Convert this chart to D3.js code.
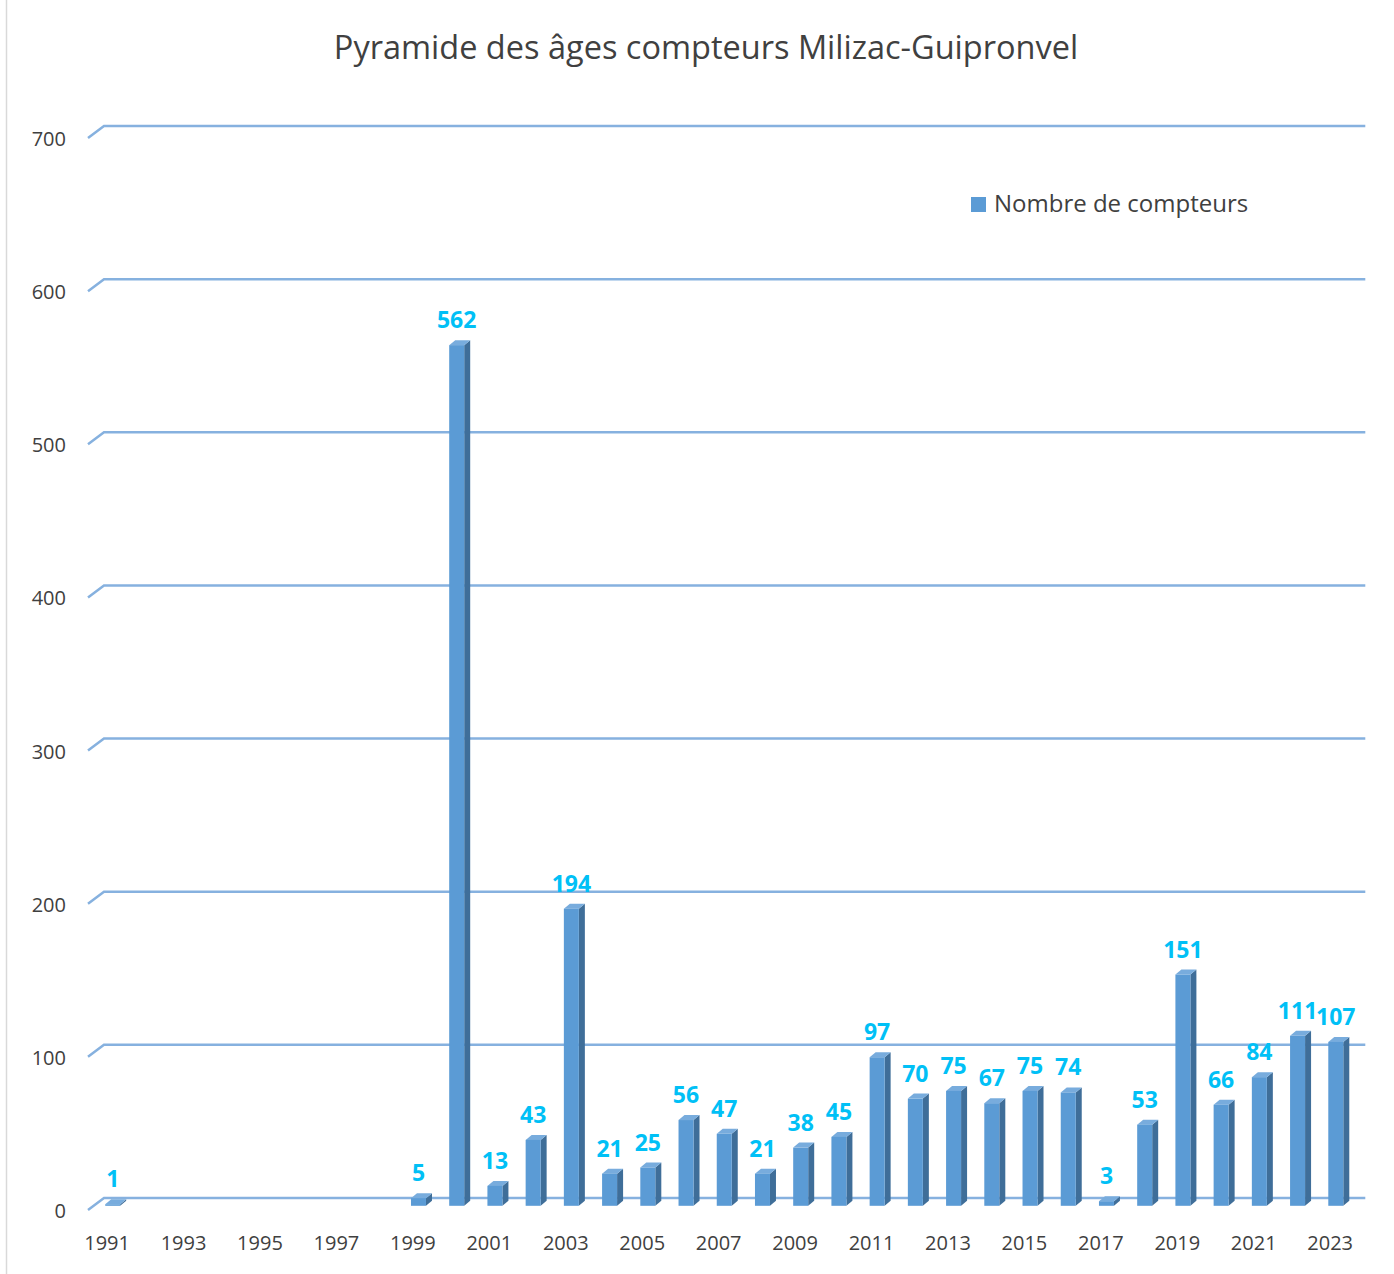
<!DOCTYPE html>
<html>
<head>
<meta charset="utf-8">
<script src="https://d3js.org/d3.v7.min.js"></script>
<style>
  body { margin: 0; background: #fff; }
  svg text { font-family: "Open Sans", "DejaVu Sans", sans-serif; }
</style>
</head>
<body>
<div id="chart"></div>
<script>

/*
 * Data.
 */
var years = d3.range(1991, 2024).map(String);
var counts = [1, null, null, null, null, null, null, null, 5, 562, 13, 43, 194, 21,
  25, 56, 47, 21, 38, 45, 97, 70, 75, 67, 75, 74, 3, 53, 151, 66, 84, 111, 107];
var yTicks = [0, 100, 200, 300, 400, 500, 600, 700];
var xTickLabels = years.filter(function(d, i) { return i % 2 === 0; });
var title = 'Pyramide des âges compteurs Milizac-Guipronvel';
var seriesName = 'Nombre de compteurs';

// Size.
var width = 1394;
var height = 1274;

// 3D offsets (back wall, bar front, bar depth).
var wall = { dx: 16, dy: -12 };
var front = { dx: 5.6, dy: -4.2 };
var depth = { dx: 6, dy: -5 };
var barWidth = 15;

// Colors.
var colors = {
  grid: '#86B1DF',
  face: '#5B9BD5',
  side: '#3F6E99',
  top: '#78ACDD',
  label: '#00C0F6',
  text: '#404040'
};

var svg = d3.select('#chart').append('svg')
  .attr('width', width)
  .attr('height', height);

// Frame.
svg.append('rect')
  .attr('x', 6.5).attr('y', -5)
  .attr('width', 1400).attr('height', 1290)
  .attr('fill', 'none')
  .attr('stroke', '#D9D9D9')
  .attr('stroke-width', 1.5);

/*
 * Scales.
 */
var x = d3.scaleBand()
  .domain(years)
  .range([88, 1349.3])
  .padding(0);

var y = d3.scaleLinear()
  .domain([0, 700])
  .range([1210, 138]);

// Title.
svg.append('text')
  .attr('x', 706).attr('y', 59)
  .attr('text-anchor', 'middle')
  .attr('font-size', 32.5)
  .attr('fill', colors.text)
  .text(title);

/*
 * Gridlines (floor diagonal + back wall).
 */
var grid = svg.append('g').attr('class', 'grid');

grid.selectAll('path')
  .data(yTicks)
  .enter().append('path')
  .attr('d', function(d) {
    var y0 = y(d);
    return 'M' + x.range()[0] + ',' + y0 +
      'L' + (x.range()[0] + wall.dx) + ',' + (y0 + wall.dy) +
      'L' + (x.range()[1] + wall.dx) + ',' + (y0 + wall.dy);
  })
  .attr('fill', 'none')
  .attr('stroke', colors.grid)
  .attr('stroke-width', 2.5);

// Y axis labels.
svg.append('g').selectAll('text')
  .data(yTicks)
  .enter().append('text')
  .attr('x', 66)
  .attr('y', function(d) { return y(d) + 8; })
  .attr('text-anchor', 'end')
  .attr('font-size', 20)
  .attr('fill', colors.text)
  .text(function(d) { return d; });

// X axis labels.
svg.append('g').selectAll('text')
  .data(xTickLabels)
  .enter().append('text')
  .attr('x', function(d) { return x(d) + x.bandwidth() / 2; })
  .attr('y', 1250)
  .attr('text-anchor', 'middle')
  .attr('font-size', 20)
  .attr('fill', colors.text)
  .text(function(d) { return d; });

/*
 * Bars.
 */
var rows = years.map(function(d, i) { return { year: d, value: counts[i] }; })
  .filter(function(d) { return d.value !== null; });

var bars = svg.append('g').attr('class', 'bars')
  .selectAll('g')
  .data(rows)
  .enter().append('g');

function left(d) {
  return x(d.year) + x.bandwidth() / 2 + front.dx - barWidth / 2;
}

// Side face.
bars.append('path')
  .attr('d', function(d) {
    var x1 = left(d) + barWidth;
    var yb = y(0) + front.dy;
    var yt = y(d.value) + front.dy;
    return 'M' + x1 + ',' + yb + 'L' + (x1 + depth.dx) + ',' + (yb + depth.dy) +
      'L' + (x1 + depth.dx) + ',' + (yt + depth.dy) + 'L' + x1 + ',' + yt + 'Z';
  })
  .attr('fill', colors.side);

// Top face.
bars.append('path')
  .attr('d', function(d) {
    var x0 = left(d);
    var yt = y(d.value) + front.dy;
    return 'M' + x0 + ',' + yt + 'L' + (x0 + barWidth) + ',' + yt +
      'L' + (x0 + barWidth + depth.dx) + ',' + (yt + depth.dy) +
      'L' + (x0 + depth.dx) + ',' + (yt + depth.dy) + 'Z';
  })
  .attr('fill', colors.top);

// Front face.
bars.append('rect')
  .attr('x', left)
  .attr('y', function(d) { return y(d.value) + front.dy; })
  .attr('width', barWidth)
  .attr('height', function(d) { return y(0) - y(d.value); })
  .attr('fill', colors.face);

// Value labels.
bars.append('text')
  .attr('x', function(d) { return left(d) + barWidth / 2; })
  .attr('y', function(d) { return y(d.value) + front.dy - 17; })
  .attr('text-anchor', 'middle')
  .attr('font-size', 23)
  .attr('font-weight', 'bold')
  .attr('fill', colors.label)
  .text(function(d) { return d.value; });

/*
 * Legend.
 */
var legend = svg.append('g').attr('transform', 'translate(971,197)');

legend.append('rect')
  .attr('width', 15).attr('height', 15)
  .attr('fill', colors.face);

legend.append('text')
  .attr('x', 23).attr('y', 15)
  .attr('font-size', 24)
  .attr('fill', colors.text)
  .text(seriesName);

</script>
</body>
</html>
